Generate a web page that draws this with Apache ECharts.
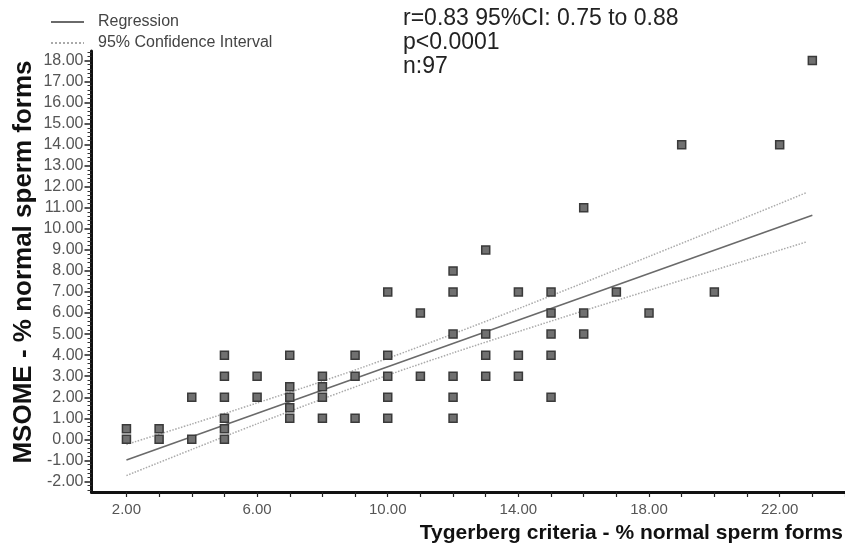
<!DOCTYPE html>
<html>
<head>
<meta charset="utf-8">
<script src="https://cdn.jsdelivr.net/npm/echarts@6/dist/echarts.min.js"></script>
<style>
html,body{margin:0;padding:0;background:#fff;}
#chart{width:845px;height:549px;}
</style>
</head>
<body>
<div id="chart"></div>
<script>
// Scatter data (Tygerberg criteria vs MSOME, % normal sperm forms)
var tygerberg = [2,2, 3,3, 4,4, 5,5,5,5,5,5, 6,6, 7,7,7,7,7, 8,8,8,8, 9,9,9, 10,10,10,10,10, 11,11, 12,12,12,12,12,12, 13,13,13,13, 14,14,14, 15,15,15,15,15, 16,16,16, 17, 18, 19, 20, 22, 23];
var msome     = [0.5,0, 0.5,0, 2,0, 4,3,2,1,0.5,0, 3,2, 4,2.5,2,1.5,1, 3,2.5,2,1, 4,3,1, 7,4,3,2,1, 6,3, 8,7,5,3,2,1, 9,5,4,3, 7,4,3, 7,6,5,4,2, 11,6,5, 7, 6, 14, 7, 14, 18];

// Regression line and 95% confidence interval
var regX = [2, 23];
var regY = [-0.98, 10.65];
var ciX     = [2, 4, 6, 8, 10, 12, 14, 16, 18, 20, 22, 22.8];
var ciUpper = [-0.24, 0.73, 1.73, 2.76, 3.85, 5.01, 6.21, 7.44, 8.69, 9.94, 11.20, 11.71];
var ciLower = [-1.72, -0.48, 0.74, 1.92, 3.05, 4.11, 5.12, 6.11, 7.08, 8.04, 8.99, 9.37];

// Axis ticks / labels
var xLabelValues = [2, 6, 10, 14, 18, 22];
var xTickValues = [2,3,4,5,6,7,8,9,10,11,12,13,14,15,16,17,18,19,20,21,22,23,24];
var yLabelValues = [-2,-1,0,1,2,3,4,5,6,7,8,9,10,11,12,13,14,15,16,17,18];
var yMinorValues = [];
for (var i = -12; i <= 92; i++) { if (i % 5 !== 0) yMinorValues.push(i / 5); }

var statsText = ['r=0.83 95%CI: 0.75 to 0.88', 'p<0.0001', 'n:97'];
var xTitle = 'Tygerberg criteria - % normal sperm forms';
var yTitle = 'MSOME - % normal sperm forms';

function zip(a, b) { return a.map(function (v, k) { return [v, b[k]]; }); }

var chart = echarts.init(document.getElementById('chart'), null, {renderer: 'canvas'});
var FONT = 'Liberation Sans, Arial, sans-serif';
var NOSYM = {color: 'rgba(0,0,0,0)', borderWidth: 0};

chart.setOption({
  animation: false,
  backgroundColor: '#fff',
  textStyle: {fontFamily: FONT},
  grid: {left: 91.5, top: 51, width: 755, height: 441, containLabel: false},
  legend: {
    orient: 'vertical', left: 45, top: 9, itemWidth: 33, itemHeight: 10, itemGap: 5,
    data: ['Regression', '95% Confidence Interval'],
    itemStyle: {opacity: 0, borderWidth: 0},
    textStyle: {fontSize: 16, color: '#444', fontFamily: FONT, padding: [0, 0, 0, 9]},
    selectedMode: false
  },
  xAxis: {
    type: 'value', min: 0.93, max: 24,
    axisLine: {show: true, onZero: false, lineStyle: {color: '#111', width: 3}},
    axisTick: {show: true, customValues: xTickValues, length: 5, lineStyle: {color: '#222', width: 1.2}},
    axisLabel: {customValues: xLabelValues, color: '#555', fontSize: 15, margin: 10, fontFamily: FONT,
      formatter: function (v) { return v.toFixed(2); }},
    splitLine: {show: false}
  },
  yAxis: [{
    type: 'value', min: -2.5, max: 18.45,
    axisLine: {show: true, onZero: false, lineStyle: {color: '#111', width: 3}},
    axisTick: {show: true, customValues: yLabelValues, length: 7, lineStyle: {color: '#222', width: 1.5}},
    axisLabel: {customValues: yLabelValues, color: '#555', fontSize: 16, margin: 8, fontFamily: FONT,
      formatter: function (v) { return v.toFixed(2); }},
    splitLine: {show: false}
  }, {
    type: 'value', min: -2.5, max: 18.45, position: 'left',
    axisLine: {show: false},
    axisTick: {show: true, customValues: yMinorValues, length: 4, lineStyle: {color: '#333', width: 1}},
    axisLabel: {show: false},
    splitLine: {show: false}
  }],
  series: [{
    name: 'Regression', type: 'line', data: zip(regX, regY), symbol: 'none',
    itemStyle: NOSYM,
    lineStyle: {color: '#6a6a6a', width: 1.6}, z: 3
  }, {
    name: '95% Confidence Interval', type: 'line', data: zip(ciX, ciUpper), symbol: 'none', smooth: 0.3,
    itemStyle: NOSYM,
    lineStyle: {color: '#aaa', width: 1.5, type: 'dotted'}, z: 3
  }, {
    name: '95% Confidence Interval', type: 'line', data: zip(ciX, ciLower), symbol: 'none', smooth: 0.3,
    itemStyle: NOSYM,
    lineStyle: {color: '#aaa', width: 1.5, type: 'dotted'}, z: 3
  }, {
    name: 'Data', type: 'scatter', data: zip(tygerberg, msome), symbol: 'rect', symbolSize: 8,
    itemStyle: {color: '#707070', borderColor: '#3a3a3a', borderWidth: 1.5, opacity: 1}, z: 4
  }],
  graphic: [{
    type: 'text', left: 403, top: 7,
    style: {text: statsText.join('\n'), font: '23px ' + FONT, fill: '#222', lineHeight: 24}
  }, {
    type: 'text', right: 2, top: 523,
    style: {text: xTitle, font: 'bold 21px ' + FONT, fill: '#111'}
  }, {
    type: 'text', x: 11, y: 262, rotation: Math.PI / 2,
    style: {text: yTitle, font: 'bold 26px ' + FONT, fill: '#111', align: 'center', verticalAlign: 'top'}
  }]
});
</script>
</body>
</html>
